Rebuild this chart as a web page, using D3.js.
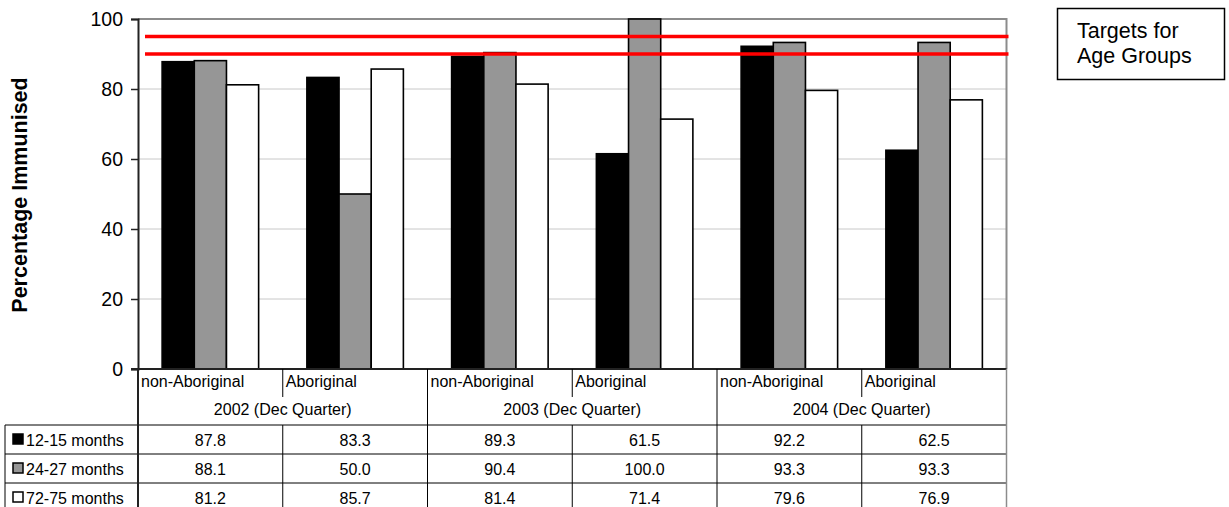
<!DOCTYPE html>
<html>
<head>
<meta charset="utf-8">
<script src="https://cdn.jsdelivr.net/npm/d3@7"></script>
<style>
  html, body { margin: 0; padding: 0; background: #fff; }
  svg { display: block; font-family: "Liberation Sans", Arial, sans-serif; }
</style>
</head>
<body>
<svg id="chart" width="1229" height="507"></svg>
<script>
// Immunisation coverage by population group and quarter
const groups = ["non-Aboriginal", "Aboriginal", "non-Aboriginal", "Aboriginal", "non-Aboriginal", "Aboriginal"];
const years = ["2002 (Dec Quarter)", "2003 (Dec Quarter)", "2004 (Dec Quarter)"];
const seriesNames = ["12-15 months", "24-27 months", "72-75 months"];
const seriesColors = ["#000000", "#969696", "#ffffff"];
const months12to15 = [87.8, 83.3, 89.3, 61.5, 92.2, 62.5];
const months24to27 = [88.1, 50.0, 90.4, 100.0, 93.3, 93.3];
const months72to75 = [81.2, 85.7, 81.4, 71.4, 79.6, 76.9];
const targets = [95, 90];
const yTicks = [0, 20, 40, 60, 80, 100];

const series = [months12to15, months24to27, months72to75];

const svg = d3.select("#chart");
const plotLeft = 138, plotRight = 1006.5, plotTop = 19, plotBottom = 369;
const tableLeft = 5;
const rowLines = [425, 454, 483, 512];

const x = d3.scaleBand().domain(d3.range(groups.length)).range([plotLeft, plotRight]).padding(0);
const xs = d3.scaleBand().domain(d3.range(series.length)).range([0, x.bandwidth()])
  .paddingInner(0).paddingOuter(0.75);
const y = d3.scaleLinear().domain([0, 100]).range([plotBottom, plotTop]);

// gridlines
svg.append("g").selectAll("line").data(yTicks.filter(d => d > 0 && d < 100)).join("line")
  .attr("x1", plotLeft).attr("x2", plotRight)
  .attr("y1", d => y(d)).attr("y2", d => y(d))
  .attr("stroke", "#c8c8c8").attr("stroke-width", 1);

// plot frame (top and right)
svg.append("path")
  .attr("d", `M${plotLeft},${y(100)}H${plotRight}V${plotBottom}`)
  .attr("fill", "none").attr("stroke", "#8c8c8c").attr("stroke-width", 2);

// bars
const barG = svg.append("g");
series.forEach((vals, si) => {
  barG.append("g").selectAll("rect").data(vals).join("rect")
    .attr("x", (d, i) => x(i) + xs(si))
    .attr("y", d => y(d))
    .attr("width", xs.bandwidth())
    .attr("height", d => y(0) - y(d))
    .attr("fill", seriesColors[si])
    .attr("stroke", "#000").attr("stroke-width", 1.6);
});

// target lines
svg.append("g").selectAll("line").data(targets).join("line")
  .attr("x1", plotLeft + 7).attr("x2", plotRight + 2)
  .attr("y1", d => y(d)).attr("y2", d => y(d))
  .attr("stroke", "#ff0000").attr("stroke-width", 3.5);

// y axis
const yAxis = svg.append("g").attr("transform", `translate(${plotLeft},0)`)
  .call(d3.axisLeft(y).tickValues(yTicks).tickSize(7).tickPadding(8));
yAxis.select(".domain").attr("stroke", "#222").attr("stroke-width", 2);
yAxis.selectAll(".tick line").attr("stroke", "#222").attr("stroke-width", 1.5);
yAxis.selectAll(".tick text").attr("font-size", 19.5).attr("fill", "#000")
  .attr("font-family", "'Liberation Sans', Arial, sans-serif");

svg.append("text")
  .attr("transform", `translate(27,195) rotate(-90)`)
  .attr("text-anchor", "middle").attr("font-weight", "bold").attr("font-size", 21.5)
  .text("Percentage Immunised");

// data table
const tbl = svg.append("g").attr("stroke", "#000").attr("stroke-width", 1);
// x axis line
tbl.append("line").attr("x1", plotLeft - 7).attr("x2", plotRight).attr("y1", plotBottom).attr("y2", plotBottom)
  .attr("stroke", "#222").attr("stroke-width", 2);
// horizontal row lines
rowLines.forEach(ry => {
  tbl.append("line").attr("x1", tableLeft).attr("x2", plotRight).attr("y1", ry).attr("y2", ry);
});
// table left edge
tbl.append("line").attr("x1", tableLeft).attr("x2", tableLeft).attr("y1", rowLines[0]).attr("y2", 512);
// column dividers
d3.range(groups.length + 1).forEach(i => {
  const cx = i === groups.length ? plotRight : x(i);
  const yearEdge = i % 2 === 0;
  if (i === 0) {
    tbl.append("line").attr("x1", cx).attr("x2", cx).attr("y1", plotBottom).attr("y2", 512)
      .attr("stroke", "#222").attr("stroke-width", 2);
  } else if (yearEdge) {
    tbl.append("line").attr("x1", cx).attr("x2", cx).attr("y1", plotBottom).attr("y2", 512)
      .attr("stroke", i === groups.length ? "#8c8c8c" : "#000")
      .attr("stroke-width", i === groups.length ? 1.5 : 1);
  } else {
    tbl.append("line").attr("x1", cx).attr("x2", cx).attr("y1", plotBottom).attr("y2", 397);
    tbl.append("line").attr("x1", cx).attr("x2", cx).attr("y1", rowLines[0]).attr("y2", 512);
  }
});

const txt = svg.append("g").attr("font-size", 16).attr("fill", "#000");
// group labels
txt.selectAll(".grp").data(groups).join("text")
  .attr("x", (d, i) => x(i) + 3).attr("y", 387).text(d => d);
// year labels
txt.selectAll(".yr").data(years).join("text")
  .attr("x", (d, i) => x(i * 2) + x.bandwidth()).attr("y", 415)
  .attr("text-anchor", "middle").text(d => d);
// legend rows and values
series.forEach((vals, si) => {
  const r0 = rowLines[si], r1 = rowLines[si + 1];
  const base = (r0 + r1) / 2 + 6;
  svg.append("rect")
    .attr("x", 13).attr("y", (r0 + r1) / 2 - 5.5).attr("width", 10).attr("height", 10)
    .attr("fill", seriesColors[si]).attr("stroke", "#000").attr("stroke-width", 1.5);
  txt.append("text").attr("x", 26).attr("y", base).text(seriesNames[si]);
  txt.append("g").selectAll("text").data(vals).join("text")
    .attr("x", (d, i) => x(i) + x.bandwidth() / 2).attr("y", base)
    .attr("text-anchor", "middle").text(d => d.toFixed(1));
});

// target note box
svg.append("rect").attr("x", 1057.5).attr("y", 8.5).attr("width", 167).attr("height", 71)
  .attr("fill", "#fff").attr("stroke", "#000").attr("stroke-width", 1.5);
const note = svg.append("text").attr("font-size", 21.5).attr("fill", "#000");
note.append("tspan").attr("x", 1077).attr("y", 38).text("Targets for");
note.append("tspan").attr("x", 1077).attr("y", 63).text("Age Groups");
</script>
</body>
</html>
